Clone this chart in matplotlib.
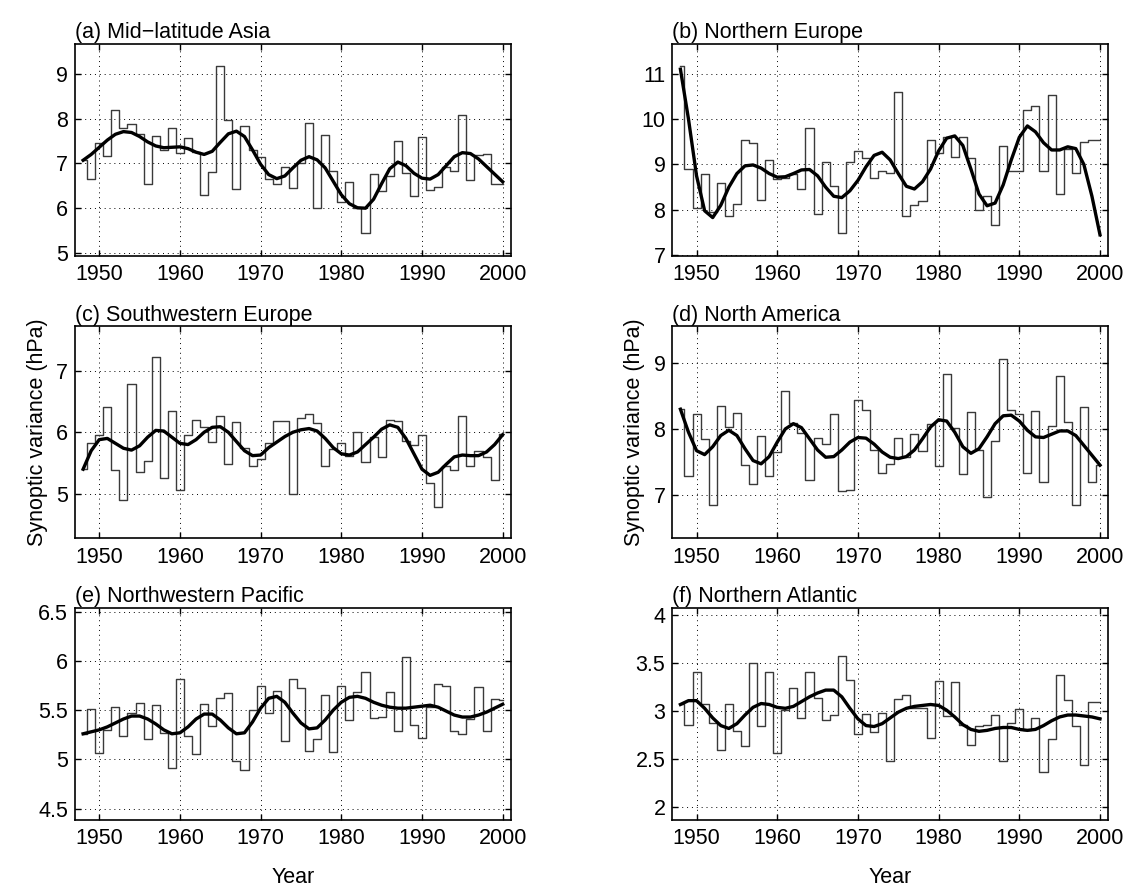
import matplotlib
matplotlib.use("Agg")
import matplotlib.pyplot as plt
import numpy as np

plt.rcParams["font.family"] = ["Liberation Sans", "DejaVu Sans"]

# years 1948-2000
years = np.arange(1948, 2001)

# (a) Mid-latitude Asia
asia = [7.07, 6.65, 7.46, 7.16, 8.20, 7.78, 7.87, 7.66, 6.53, 7.62,
        7.30, 7.78, 7.24, 7.57, 7.26, 6.29, 6.80, 9.17, 7.98, 6.42,
        7.84, 7.31, 7.14, 6.65, 6.54, 6.91, 6.46, 7.02, 7.90, 6.01,
        7.63, 6.83, 6.13, 6.59, 6.00, 5.44, 6.76, 6.39, 6.72, 7.50,
        6.78, 6.28, 7.60, 6.41, 6.47, 6.92, 6.82, 8.07, 6.62, 7.18,
        7.20, 6.53, 6.55]
asia_smooth = [7.07, 7.20, 7.36, 7.52, 7.65, 7.71, 7.69, 7.60, 7.48, 7.39,
               7.35, 7.36, 7.37, 7.33, 7.25, 7.20, 7.27, 7.47, 7.66, 7.72,
               7.60, 7.30, 6.98, 6.75, 6.66, 6.72, 6.90, 7.07, 7.15, 7.08,
               6.90, 6.60, 6.30, 6.10, 6.01, 6.00, 6.20, 6.55, 6.88, 7.03,
               6.95, 6.78, 6.67, 6.65, 6.75, 6.95, 7.15, 7.24, 7.22, 7.10,
               6.93, 6.76, 6.59]

# (b) Northern Europe
neur = [11.16, 8.90, 8.04, 8.79, 7.95, 8.60, 7.87, 8.13, 9.53, 9.47,
        8.22, 9.09, 8.69, 8.70, 8.80, 8.46, 9.81, 7.90, 9.06, 8.53,
        7.49, 9.05, 9.29, 9.14, 8.70, 8.85, 8.81, 10.59, 7.86, 8.10,
        8.19, 9.54, 9.26, 9.61, 9.16, 9.61, 9.15, 8.00, 8.30, 7.67,
        9.41, 8.86, 8.86, 10.20, 10.30, 8.86, 10.54, 8.36, 9.34, 8.82,
        9.50, 9.55, 9.55]
neur_smooth = [11.10, 10.00, 8.75, 7.98, 7.83, 8.10, 8.50, 8.80, 8.97, 8.99,
               8.92, 8.80, 8.72, 8.73, 8.80, 8.88, 8.89, 8.75, 8.50, 8.30,
               8.27, 8.42, 8.65, 8.95, 9.20, 9.27, 9.10, 8.80, 8.52, 8.46,
               8.62, 8.90, 9.30, 9.58, 9.63, 9.42, 8.90, 8.35, 8.09, 8.15,
               8.55, 9.10, 9.60, 9.85, 9.72, 9.48, 9.32, 9.32, 9.39, 9.35,
               9.00, 8.30, 7.45]

# (c) Southwestern Europe
sweur = [5.40, 5.82, 5.96, 6.41, 5.38, 4.90, 6.78, 5.35, 5.53, 7.22,
         5.25, 6.35, 5.07, 5.95, 6.20, 6.08, 5.84, 6.26, 5.49, 6.16,
         5.75, 5.45, 5.57, 5.82, 6.19, 6.19, 4.99, 6.23, 6.29, 6.15,
         5.46, 5.72, 5.82, 5.61, 6.00, 5.52, 5.93, 5.60, 6.20, 6.19,
         5.85, 5.79, 5.96, 5.17, 4.78, 5.46, 5.39, 6.26, 5.46, 5.70,
         5.60, 5.22, 5.97]
sweur_smooth = [5.40, 5.70, 5.88, 5.90, 5.82, 5.74, 5.71, 5.78, 5.92, 6.03,
                6.02, 5.92, 5.82, 5.80, 5.88, 6.00, 6.08, 6.09, 6.00, 5.85,
                5.70, 5.62, 5.63, 5.75, 5.84, 5.93, 6.00, 6.04, 6.06, 6.02,
                5.90, 5.75, 5.65, 5.63, 5.68, 5.80, 5.92, 6.05, 6.12, 6.08,
                5.90, 5.65, 5.40, 5.30, 5.35, 5.48, 5.60, 5.63, 5.62, 5.62,
                5.68, 5.80, 5.96]

# (d) North America
namer = [8.30, 7.28, 8.22, 7.85, 6.84, 8.35, 8.03, 8.25, 7.45, 7.16,
         7.89, 7.28, 7.65, 8.57, 8.09, 7.94, 7.22, 7.87, 7.77, 8.22,
         7.05, 7.07, 8.44, 8.29, 7.68, 7.33, 7.46, 7.86, 7.57, 7.92,
         7.67, 8.08, 7.44, 8.83, 8.01, 7.32, 8.26, 7.68, 6.97, 7.81,
         9.06, 8.29, 8.22, 7.33, 8.27, 7.20, 8.05, 8.80, 8.10, 6.84,
         8.33, 7.20, 7.45]
namer_smooth = [8.30, 7.95, 7.67, 7.61, 7.73, 7.90, 7.98, 7.90, 7.70, 7.52,
                7.47, 7.58, 7.80, 8.00, 8.08, 8.02, 7.85, 7.68, 7.57, 7.58,
                7.68, 7.80, 7.87, 7.86, 7.77, 7.65, 7.57, 7.55, 7.58, 7.68,
                7.85, 8.03, 8.14, 8.12, 7.95, 7.73, 7.63, 7.70, 7.88, 8.08,
                8.20, 8.21, 8.12, 7.98, 7.88, 7.87, 7.92, 7.97, 7.97, 7.90,
                7.75, 7.60, 7.45]

# (e) Northwestern Pacific
nwpac = [5.26, 5.51, 5.07, 5.30, 5.53, 5.24, 5.47, 5.57, 5.21, 5.55,
         5.27, 4.91, 5.82, 5.24, 5.06, 5.56, 5.34, 5.62, 5.67, 4.98,
         4.89, 5.50, 5.74, 5.47, 5.69, 5.19, 5.82, 5.72, 5.09, 5.21,
         5.65, 5.08, 5.74, 5.40, 5.68, 5.89, 5.42, 5.43, 5.68, 5.29,
         6.04, 5.35, 5.22, 5.53, 5.77, 5.74, 5.29, 5.26, 5.41, 5.73,
         5.29, 5.61, 5.60]
nwpac_smooth = [5.26, 5.28, 5.30, 5.33, 5.37, 5.41, 5.44, 5.44, 5.41, 5.36,
                5.30, 5.26, 5.27, 5.33, 5.41, 5.46, 5.46, 5.40, 5.32, 5.26,
                5.27, 5.38, 5.52, 5.62, 5.64, 5.58, 5.47, 5.37, 5.31, 5.32,
                5.40, 5.50, 5.58, 5.63, 5.64, 5.62, 5.58, 5.55, 5.53, 5.52,
                5.52, 5.53, 5.54, 5.55, 5.53, 5.49, 5.45, 5.43, 5.43, 5.45,
                5.48, 5.52, 5.56]

# (f) Northern Atlantic
natl = [3.07, 2.86, 3.41, 3.07, 2.88, 2.60, 3.08, 2.79, 2.64, 3.50,
        2.85, 3.41, 2.56, 3.01, 3.24, 2.93, 3.41, 3.14, 2.91, 2.96,
        3.58, 3.33, 2.76, 2.97, 2.78, 2.98, 2.48, 3.13, 3.17, 3.03,
        3.03, 2.72, 3.32, 2.95, 3.30, 2.86, 2.65, 2.85, 2.86, 2.96,
        2.48, 2.88, 3.02, 2.80, 2.93, 2.37, 2.71, 3.38, 3.12, 2.85,
        2.44, 3.10, 3.10]
natl_smooth = [3.07, 3.11, 3.11, 3.03, 2.93, 2.85, 2.82, 2.87, 2.96, 3.04,
               3.08, 3.07, 3.04, 3.03, 3.05, 3.10, 3.15, 3.19, 3.22, 3.22,
               3.15, 3.03, 2.92, 2.85, 2.84, 2.87, 2.93, 2.99, 3.03, 3.05,
               3.06, 3.07, 3.06, 3.01, 2.94, 2.86, 2.81, 2.79, 2.80, 2.82,
               2.83, 2.83, 2.81, 2.80, 2.81, 2.85, 2.90, 2.94, 2.96, 2.96,
               2.95, 2.94, 2.92]

panels = [
    ("(a) Mid\u2212latitude Asia", asia, asia_smooth, [5, 6, 7, 8, 9], None),
    ("(b) Northern Europe", neur, neur_smooth, [7, 8, 9, 10, 11], None),
    ("(c) Southwestern Europe", sweur, sweur_smooth, [5, 6, 7], None),
    ("(d) North America", namer, namer_smooth, [7, 8, 9], None),
    ("(e) Northwestern Pacific", nwpac, nwpac_smooth, [4.5, 5, 5.5, 6, 6.5], ["4.5", "5", "5.5", "6", "6.5"]),
    ("(f) Northern Atlantic", natl, natl_smooth, [2, 2.5, 3, 3.5, 4], ["2", "2.5", "3", "3.5", "4"]),
]

fig = plt.figure(figsize=(11.3, 8.94), dpi=100)

lefts = [0.0664, 0.595]
bottoms = [0.714, 0.398, 0.0833]
w, h = 0.3856, 0.2370

for i, (title, vals, smooth, yt, ytl) in enumerate(panels):
    row, col = divmod(i, 2)
    ax = fig.add_axes([lefts[col], bottoms[row], w, h])
    vals = np.array(vals)
    ax.step(years, vals, where="mid", color="#3a3a3a", lw=1.0)
    ax.plot(years, smooth, color="black", lw=2.4)
    ax.set_xlim(1947, 2001)
    ax.set_ylim(vals.min() - 0.5, vals.max() + 0.5)
    ax.set_xticks([1950, 1960, 1970, 1980, 1990, 2000])
    ax.set_yticks(yt)
    if ytl is not None:
        ax.set_yticklabels(ytl)
    ax.grid(True, linestyle=(0, (1, 4)), color="black", lw=0.7)
    ax.tick_params(direction="in", top=True, right=True, length=4,
                   labelsize=15.5, width=1.0)
    ax.tick_params(axis="x", pad=6)
    ax.tick_params(axis="y", pad=5)
    for s in ax.spines.values():
        s.set_linewidth(1.2)
    ax.set_title(title, loc="left", fontsize=15.5, pad=4)
    if row == 1:
        ax.set_ylabel("Synoptic variance (hPa)", fontsize=15.5, labelpad=6)
    if row == 2:
        ax.set_xlabel("Year", fontsize=15.5, labelpad=13)

fig.savefig("out.png", dpi=100)
